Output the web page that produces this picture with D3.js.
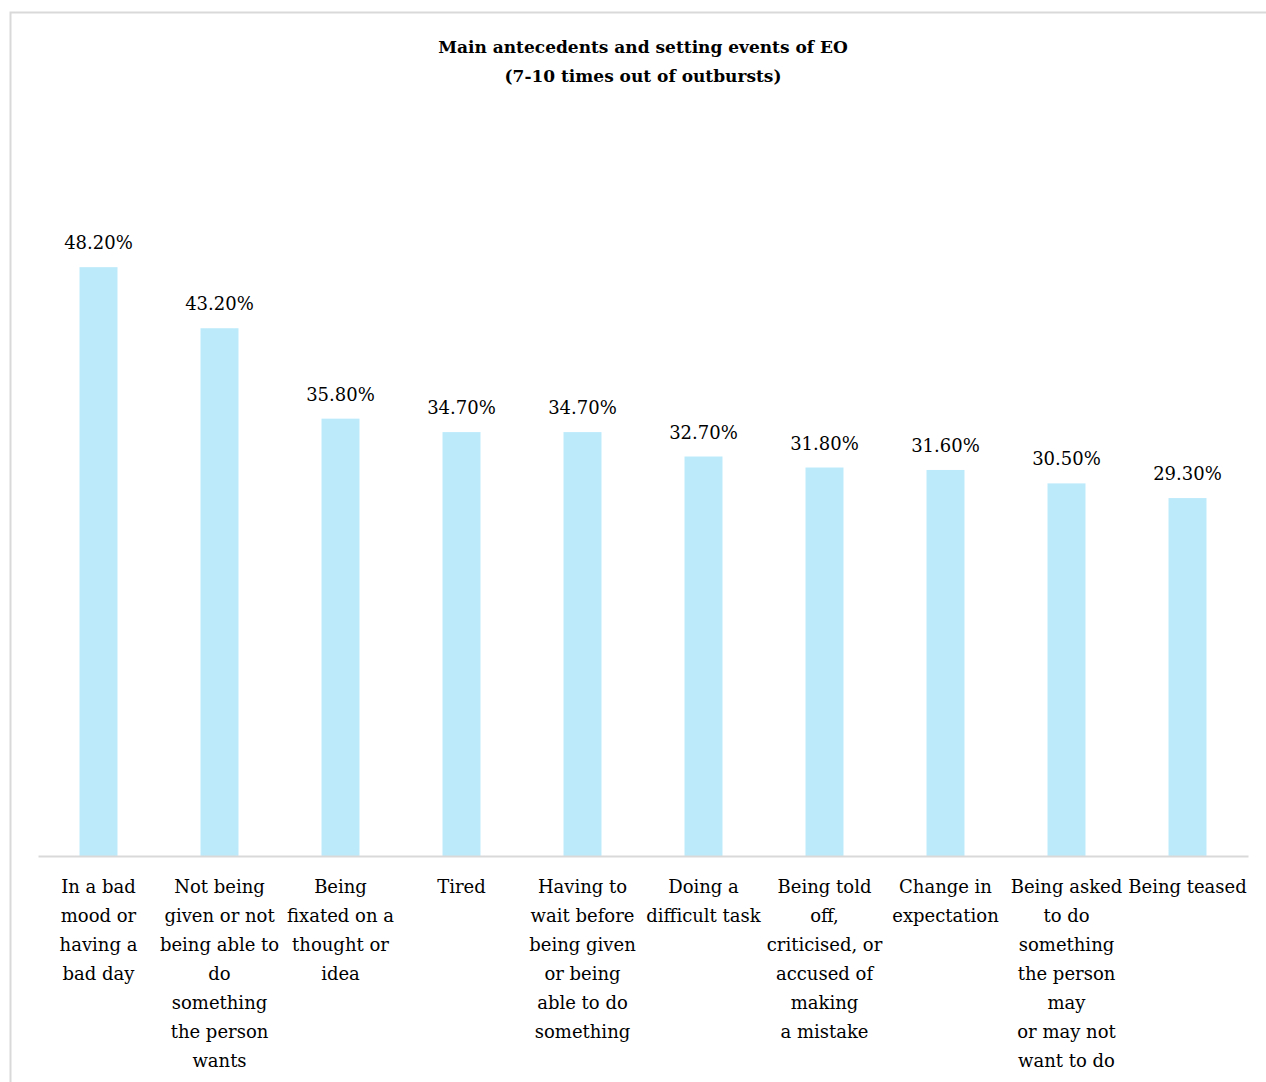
<!DOCTYPE html>
<html>
<head>
<meta charset="utf-8">
<script src="https://cdn.jsdelivr.net/npm/d3@7"></script>
<style>
  body { margin: 0; background: #fff; }
  svg text { font-family: "DejaVu Serif", serif; fill: #000; }
</style>
</head>
<body>
<svg id="chart" width="1266" height="1082"></svg>
<script>
"use strict";

var categories = [
  ["In a bad", "mood or", "having a", "bad day"],
  ["Not being", "given or not", "being able to", "do", "something", "the person", "wants"],
  ["Being", "fixated on a", "thought or", "idea"],
  ["Tired"],
  ["Having to", "wait before", "being given", "or being", "able to do", "something"],
  ["Doing a", "difficult task"],
  ["Being told", "off,", "criticised, or", "accused of", "making", "a mistake"],
  ["Change in", "expectation"],
  ["Being asked", "to do", "something", "the person", "may", "or may not", "want to do"],
  ["Being teased"]
];
var values = [0.482, 0.432, 0.358, 0.347, 0.347, 0.327, 0.318, 0.316, 0.305, 0.293];
var titleLines = ["Main antecedents and setting events of EO", "(7-10 times out of outbursts)"];

var BAR_COLOR = "#bdeafb";
var GRID_COLOR = "#d9d9d9";
var LINE_HEIGHT = 29;

var svg = d3.select("#chart");

// outer chart border (runs off the right/bottom edge)
svg.append("rect")
  .attr("x", 10.5).attr("y", 12.5)
  .attr("width", 1400).attr("height", 1200)
  .attr("fill", "none")
  .attr("stroke", GRID_COLOR)
  .attr("stroke-width", 2);

var margin = { left: 38, right: 18, top: 123, bottom: 226 };
var width = 1266 - margin.left - margin.right;
var height = 1082 - margin.top - margin.bottom;

var ids = d3.range(categories.length);
var x = d3.scaleBand().domain(ids).range([0, width]).paddingInner(0.686).paddingOuter(0.343);
var y = d3.scaleLinear().domain([0, 0.6]).range([height, 0]);

var g = svg.append("g").attr("transform", "translate(" + margin.left + "," + margin.top + ")");

svg.append("g")
  .selectAll("text")
  .data(titleLines)
  .enter()
  .append("text")
  .attr("x", 643)
  .attr("y", function (d, i) { return 53 + i * 29; })
  .attr("text-anchor", "middle")
  .attr("font-size", 17)
  .attr("font-weight", "bold")
  .text(function (d) { return d; });

g.selectAll("rect.bar")
  .data(values)
  .enter()
  .append("rect")
  .attr("class", "bar")
  .attr("x", function (d, i) { return x(i); })
  .attr("y", function (d) { return y(d); })
  .attr("width", x.bandwidth())
  .attr("height", function (d) { return y(0) - y(d); })
  .attr("fill", BAR_COLOR);

g.selectAll("text.value")
  .data(values)
  .enter()
  .append("text")
  .attr("class", "value")
  .attr("x", function (d, i) { return x(i) + x.bandwidth() / 2; })
  .attr("y", function (d) { return y(d) - 18; })
  .attr("text-anchor", "middle")
  .attr("font-size", 18)
  .text(function (d) { return d3.format(".2%")(d); });

// x axis: plain line, no ticks
var xAxis = g.append("g")
  .attr("transform", "translate(0," + height + ")")
  .call(d3.axisBottom(x).tickSize(0).tickFormat(""));
xAxis.select(".domain").attr("stroke", GRID_COLOR).attr("stroke-width", 2);

xAxis.selectAll(".tick").each(function (i) {
  var t = d3.select(this).select("text")
    .attr("y", 0)
    .attr("dy", null)
    .attr("font-size", 18)
    .attr("font-family", "DejaVu Serif, serif")
    .attr("fill", "#000");
  t.selectAll("tspan")
    .data(categories[i])
    .enter()
    .append("tspan")
    .attr("x", 0)
    .attr("y", function (d, k) { return 37 + k * LINE_HEIGHT; })
    .text(function (d) { return d; });
});
</script>
</body>
</html>
